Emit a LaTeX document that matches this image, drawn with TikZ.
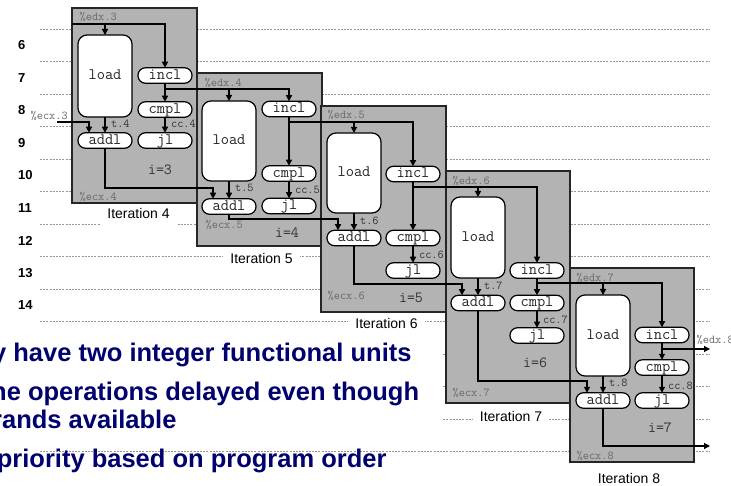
\documentclass[tikz,border=0pt]{standalone}
\usepackage{fontspec}
\setmainfont{Liberation Sans}
\usetikzlibrary{arrows.meta,calc}
\definecolor{boxgray}{RGB}{179,179,179}
\definecolor{navy}{RGB}{0,0,110}
\definecolor{lblgray}{RGB}{105,105,105}
\definecolor{dkgray}{RGB}{50,50,50}
\definecolor{gridgray}{RGB}{150,150,150}
\begin{document}
\begin{tikzpicture}[x=1pt,y=-1pt,
  itbox/.style={draw=black!85, line width=1.4pt, fill=boxgray, inner sep=0pt, outer sep=0pt},
  opnode/.style={draw=black, line width=1.2pt, fill=white, rounded corners=7.5pt, minimum width=54pt, minimum height=15.5pt, inner sep=0pt, outer sep=0pt, text height=10.5pt, text depth=2.5pt, font=\ttfamily\fontsize{16}{18}\selectfont, text=black!85},
  ldnode/.style={opnode, rounded corners=9pt},
  arr/.style={line width=1.2pt, -{Triangle[length=6pt,width=6pt]}},
  reglbl/.style={font=\ttfamily\fontsize{12}{14}\selectfont, text=lblgray, inner sep=0pt, anchor=west},
  tlbl/.style={font=\ttfamily\fontsize{12}{14}\selectfont, text=dkgray, inner sep=0pt, anchor=west, xshift=5.5pt},
  ival/.style={font=\ttfamily\fontsize{15.5}{17}\selectfont, text=dkgray, inner sep=0pt},
  itlbl/.style={font=\fontsize{14}{16}\selectfont, fill=white, inner xsep=7pt, inner ysep=6pt, text height=10pt, text depth=0pt},
  rownum/.style={font=\bfseries\fontsize{13}{15}\selectfont, anchor=west, inner sep=0pt},
  gridline/.style={draw=gridgray, line width=0.6pt, dash pattern=on 2pt off 1.2pt},
  bultxt/.style={font=\bfseries\fontsize{25.5}{28}\selectfont, text=navy, inner sep=0pt, anchor=base east}
]
\useasboundingbox (0,0) rectangle (731,486);
\fill[white] (0,0) rectangle (731,486);
% time grid
\foreach \k in {0,...,13} \draw[gridline] (40,{29+32.5*\k}) -- (710,{29+32.5*\k});
\foreach \n [count=\k from 0] in {6,...,14} \node[rownum] (row\n) at (18,{45.5+32.5*\k}) {\n};
\fill[white] (0,337) rectangle (443,440);
% iteration labels
\node[itlbl] (it4) at (138.5,214) {Iteration 4};
\node[itlbl] (it5) at (261.5,259) {Iteration 5};
\node[itlbl] (it6) at (386.5,324) {Iteration 6};
\node[itlbl] (it7) at (511,416) {Iteration 7};
\node[itlbl] (it8) at (629,478) {Iteration 8};
% boxes
\node[itbox, minimum width=125pt, minimum height=195pt] (box4) at (134.5,105.5) {};
\node[itbox, minimum width=125pt, minimum height=173pt] (box5) at (259.5,159.5) {};
\node[itbox, minimum width=125pt, minimum height=206pt] (box6) at (383.5,209) {};
\node[itbox, minimum width=124pt, minimum height=232pt] (box7) at (508,287) {};
\node[itbox, minimum width=124pt, minimum height=194pt] (box8) at (632,365) {};
% operations
\node[ldnode, minimum height=82pt] (load4) at (105,76) {load};
\node[opnode] (incl4) at (165,75.5) {incl};
\node[opnode] (cmpl4) at (165,109.5) {cmpl};
\node[opnode] (jl4) at (165,140.5) {jl};
\node[opnode] (addl4) at (105,140.5) {addl};
\node[ldnode, minimum height=80pt] (load5) at (229,141) {load};
\node[opnode] (incl5) at (289,109) {incl};
\node[opnode] (cmpl5) at (289,173.5) {cmpl};
\node[opnode] (jl5) at (289,206) {jl};
\node[opnode] (addl5) at (229,206.5) {addl};
\node[ldnode, minimum height=80pt] (load6) at (354,173) {load};
\node[opnode] (incl6) at (413,174) {incl};
\node[opnode] (cmpl6) at (413,238) {cmpl};
\node[opnode] (jl6) at (413,270.5) {jl};
\node[opnode] (addl6) at (354,238) {addl};
\node[ldnode, minimum height=81pt] (load7) at (478,237.5) {load};
\node[opnode] (incl7) at (537,270.5) {incl};
\node[opnode] (cmpl7) at (537,303) {cmpl};
\node[opnode] (jl7) at (537,335.5) {jl};
\node[opnode] (addl7) at (478,303) {addl};
\node[ldnode, minimum height=81pt] (load8) at (603,335.5) {load};
\node[opnode] (incl8) at (662,335) {incl};
\node[opnode] (cmpl8) at (662,367.5) {cmpl};
\node[opnode] (jl8) at (662,400.5) {jl};
\node[opnode] (addl8) at (603,400.5) {addl};
% branch coordinates
\coordinate (b4) at (72,24);
\coordinate (b5) at (165,89);
\coordinate (b6) at (289,122);
\coordinate (b7) at (413,187);
\coordinate (b8) at (537,283);
\coordinate (b9) at (662,349);
\coordinate (edxout) at (710,349);
\coordinate (ecxin) at (57,122);
\coordinate (c4) at (89,122);
\coordinate (c5) at (213,188);
\coordinate (c6) at (338,219);
\coordinate (c7) at (462,284);
\coordinate (c8) at (587,381);
\coordinate (ecxout) at (710,446);
% edx chain
\foreach \i in {4,...,8}{
  \draw[arr] (b\i) -| (incl\i.north);
  \draw[arr] (b\i -| load\i.north) -- (load\i.north);
}
\draw[arr] (b9) -- (edxout);
% ecx chain
\draw[arr] (ecxin) -- (c4) -- (c4 |- addl4.north);
\draw[arr] (addl4.south) |- (c5) -- (c5 |- addl5.north);
\draw[arr] (addl5.south) |- (c6) -- (c6 |- addl6.north);
\draw[arr] (addl6.south) |- (c7) -- (c7 |- addl7.north);
\draw[arr] (addl7.south) |- (c8) -- (c8 |- addl8.north);
\draw[arr] (addl8.south) |- (ecxout);
% inner edges
\draw[arr] (load4.south) -- node[tlbl, pos=0.4]{t.4} (addl4.north);
\draw[arr] (load5.south) -- node[tlbl, pos=0.4]{t.5} (addl5.north);
\draw[arr] (load6.south) -- node[tlbl, pos=0.45]{t.6} (addl6.north);
\draw[arr] (load7.south) -- node[tlbl, pos=0.45]{t.7} (addl7.north);
\draw[arr] (load8.south) -- node[tlbl, pos=0.4]{t.8} (addl8.north);
\foreach \i in {4,...,8}{
  \draw[arr] (incl\i.south) -- (cmpl\i.north);
}
\draw[arr] (cmpl4.south) -- node[tlbl, pos=0.4]{cc.4} (jl4.north);
\draw[arr] (cmpl5.south) -- node[tlbl, pos=0.5]{cc.5} (jl5.north);
\draw[arr] (cmpl6.south) -- node[tlbl, pos=0.55]{cc.6} (jl6.north);
\draw[arr] (cmpl7.south) -- node[tlbl, pos=0.55]{cc.7} (jl7.north);
\draw[arr] (cmpl8.south) -- node[tlbl, pos=0.6]{cc.8} (jl8.north);
% register labels
\node[reglbl] (edx3) at (79.5,17) {\%edx.3};
\node[reglbl] (edx4) at (204.5,83) {\%edx.4};
\node[reglbl] (edx5) at (327.5,115) {\%edx.5};
\node[reglbl] (edx6) at (452.5,181) {\%edx.6};
\node[reglbl] (edx7) at (576.5,278) {\%edx.7};
\node[reglbl] (edx8) at (696.5,340) {\%edx.8};
\node[reglbl] (ecx3) at (30.5,116) {\%ecx.3};
\node[reglbl] (ecx4) at (79.5,197) {\%ecx.4};
\node[reglbl] (ecx5) at (205.5,225) {\%ecx.5};
\node[reglbl] (ecx6) at (327.5,296) {\%ecx.6};
\node[reglbl] (ecx7) at (452.5,393) {\%ecx.7};
\node[reglbl] (ecx8) at (576.5,456) {\%ecx.8};
% i values
\node[ival] (i3) at (160,170) {i=3};
\node[ival] (i4) at (287,233) {i=4};
\node[ival] (i5) at (411,298) {i=5};
\node[ival] (i6) at (535,363) {i=6};
\node[ival] (i7) at (660,428) {i=7};
% bullet text
\node[bultxt] (txt1) at (411.7,362) {y have two integer functional units};
\node[bultxt] (txt2) at (419.3,400) {ne operations delayed even though};
\node[bultxt] (txt3) at (176.7,428) {rands available};
\node[bultxt] (txt4) at (386.7,467) {priority based on program order};
\end{tikzpicture}
\end{document}
